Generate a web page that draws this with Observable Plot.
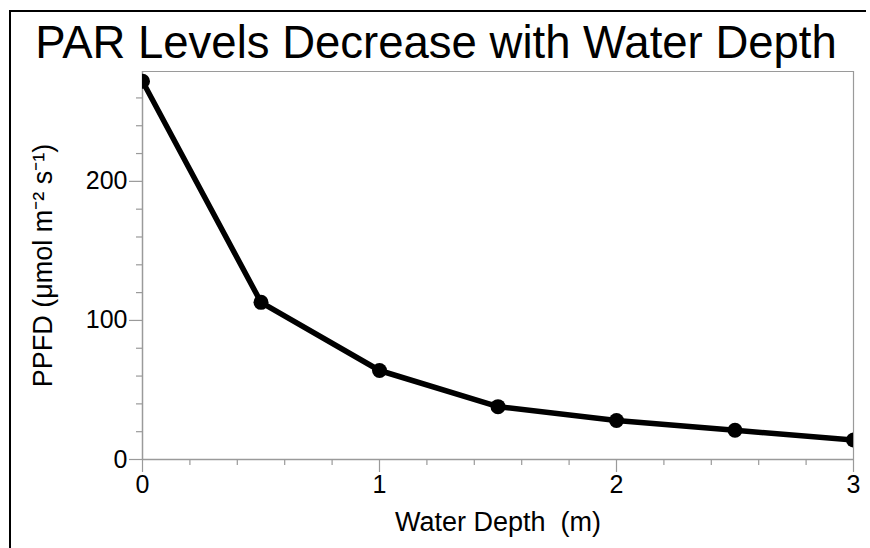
<!DOCTYPE html>
<html>
<head>
<meta charset="utf-8">
<script src="https://cdn.jsdelivr.net/npm/d3@7"></script>
<script src="https://cdn.jsdelivr.net/npm/@observablehq/plot@0.6"></script>
<style>
  html, body { margin: 0; padding: 0; background: #fff; }
  #wrap { position: relative; width: 870px; height: 548px; overflow: hidden; font-family: "Liberation Sans", Arial, sans-serif; }
  #border { position: absolute; left: 9px; top: 10px; width: 855px; height: 560px; border-left: 2px solid #000; border-top: 2px solid #000; pointer-events: none; }
</style>
</head>
<body>
<div id="wrap"><div id="border"></div></div>
<script>
const title = "PAR Levels Decrease with Water Depth";
const xLabel = "Water Depth\u00a0 (m)";
const yLabel = "PPFD (\u03bcmol m\u207b\u00b2 s\u207b\u00b9)";
const depth = [0, 0.5, 1, 1.5, 2, 2.5, 3];
const ppfd = [272, 113, 64, 38, 28, 21, 14];
const xMajorTicks = [0, 1, 2, 3];
const xMinorTicks = [0.2, 0.4, 0.6, 0.8, 1.2, 1.4, 1.6, 1.8, 2.2, 2.4, 2.6, 2.8];
const yMajorTicks = [0, 100, 200];
const yMinorTicks = [20, 40, 60, 80, 120, 140, 160, 180, 220, 240, 260];
const xDomain = [0, 3];
const yDomain = [0, 279];

const data = depth.map((d, i) => ({depth: d, ppfd: ppfd[i]}));
const gray = "#9a9a9a";

const chart = Plot.plot({
  width: 870,
  height: 548,
  marginLeft: 142,
  marginRight: 17,
  marginTop: 71,
  marginBottom: 89,
  style: {fontFamily: "'Liberation Sans', Arial, sans-serif", background: "transparent", overflow: "visible"},
  x: {domain: xDomain, axis: null},
  y: {domain: yDomain, axis: null},
  marks: [
    Plot.ruleY([yDomain[1]], {stroke: gray, strokeWidth: 1.2}),
    Plot.ruleX([xDomain[1]], {stroke: gray, strokeWidth: 1.2}),
    Plot.ruleY([0], {stroke: gray, strokeWidth: 1.5}),
    Plot.ruleX([0], {stroke: gray, strokeWidth: 1.5}),
    Plot.axisX(xMinorTicks, {tickSize: 6, stroke: gray, tickFormat: () => "", label: null, strokeWidth: 1.2}),
    Plot.axisX(xMajorTicks, {tickSize: 13, stroke: gray, tickFormat: () => "", label: null, strokeWidth: 1.2}),
    Plot.axisY(yMinorTicks, {tickSize: 6, stroke: gray, tickFormat: () => "", label: null, strokeWidth: 1.2}),
    Plot.axisY(yMajorTicks, {tickSize: 13, stroke: gray, tickFormat: () => "", label: null, strokeWidth: 1.2}),
    Plot.text(xMajorTicks, {x: d => d, frameAnchor: "bottom", dy: 16, lineAnchor: "top", text: d => String(d), fontSize: 25, fill: "black"}),
    Plot.text(yMajorTicks, {y: d => d, frameAnchor: "left", dx: -15, textAnchor: "end", lineAnchor: "middle", text: d => String(d), fontSize: 25, fill: "black"}),
    Plot.line(data, {x: "depth", y: "ppfd", stroke: "black", strokeWidth: 5.5, clip: true}),
    Plot.dot(data, {x: "depth", y: "ppfd", r: 7.5, fill: "black", stroke: "none", clip: true}),
    Plot.text([xLabel], {frameAnchor: "bottom", dy: 71, lineAnchor: "bottom", text: d => d, fontSize: 27, fill: "black"}),
    Plot.text([yLabel], {frameAnchor: "left", dx: -91, rotate: -90, textAnchor: "middle", lineAnchor: "bottom", text: d => d, fontSize: 27, fill: "black"}),
    Plot.text([title], {frameAnchor: "top", dx: -62, dy: -14, lineAnchor: "bottom", text: d => d, fontSize: 45.5, fill: "black"})
  ]
});
chart.style.position = "absolute";
chart.style.left = "0px";
chart.style.top = "0px";
document.getElementById("wrap").prepend(chart);
</script>
</body>
</html>
